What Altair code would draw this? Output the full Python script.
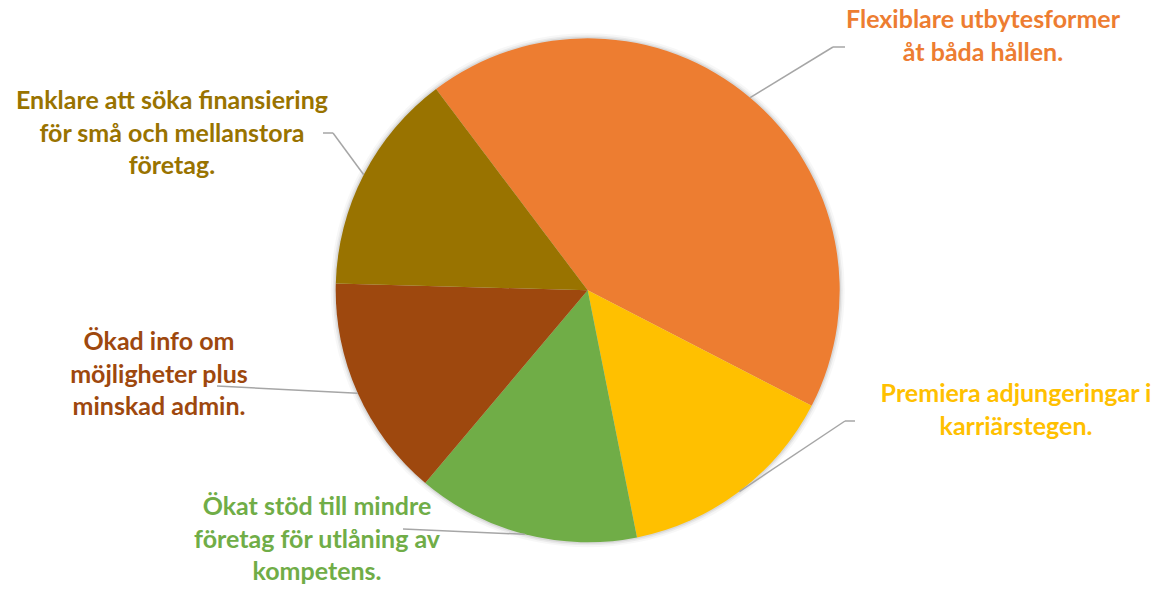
import math
import altair as alt
import pandas as pd

# ---- data ----
labels = [
    "Flexiblare utbytesformer\nåt båda hållen.",
    "Premiera adjungeringar i\nkarriärstegen.",
    "Ökat stöd till mindre\nföretag för utlåning av\nkompetens.",
    "Ökad info om\nmöjligheter plus\nminskad admin.",
    "Enklare att söka finansiering\nför små och mellanstora\nföretag.",
]
values = [3, 1, 1, 1, 1]
colors = ["#ED7D31", "#FFC000", "#70AD47", "#9E480E", "#997300"]

# ---- layout (chart pixel space; page offset 8px) ----
W, H = 1144, 582
CX, CY, R = 579.7, 282.3, 252
START = math.radians(323.0)          # first slice starts at 323 deg (clockwise from 12 o'clock)
label_x = [975, 1008, 309, 151, 164]
label_y = [20, 394, 507, 342, 101]
elbow_x = [825, 837, 395, 209, 325]
elbow_y = [39, 413, 521, 378, 125]
end_x = [837, 847, 395, 209, 315]
end_y = [39, 413, 521, 378, 125]

df = pd.DataFrame({
    "cat": labels,
    "value": values,
    "order": list(range(len(labels))),
    "lx": label_x, "ly": label_y,
    "ex1": elbow_x, "ey1": elbow_y,
    "ex2": end_x, "ey2": end_y,
})

color_scale = alt.Scale(domain=labels, range=colors)

base = alt.Chart(df)

shadow_r = [R + 5, R + 3, R + 1.5]
shadow_op = [0.03, 0.05, 0.07]
shadows = [
    alt.Chart(pd.DataFrame({"k": [0]})).mark_arc(
        theta=0, theta2=2 * math.pi, outerRadius=r, fill="#000000", opacity=op
    ).encode(x=alt.value(CX), y=alt.value(CY))
    for r, op in zip(shadow_r, shadow_op)
]

pie = base.mark_arc(outerRadius=R).encode(
    theta=alt.Theta("value:Q", stack=True,
                    scale=alt.Scale(range=[START, START + 2 * math.pi])),
    color=alt.Color("cat:N", scale=color_scale, legend=None),
    order=alt.Order("order:Q"),
    x=alt.value(CX),
    y=alt.value(CY),
)

leader_base = base.transform_joinaggregate(
    total="sum(value)"
).transform_window(
    cum="sum(value)", sort=[alt.SortField("order")], frame=[None, 0]
).transform_calculate(
    mid=f"{START} + 2*PI*(datum.cum - datum.value/2)/datum.total",
).transform_calculate(
    px=f"{CX} + {R}*sin(datum.mid)",
    py=f"{CY} - {R}*cos(datum.mid)",
)

lead1 = leader_base.mark_rule(color="#A6A6A6", strokeWidth=1.5).encode(
    x=alt.X("px:Q", scale=None, axis=None),
    y=alt.Y("py:Q", scale=None, axis=None),
    x2="ex1:Q",
    y2="ey1:Q",
)
lead2 = base.mark_rule(color="#A6A6A6", strokeWidth=1.5).encode(
    x=alt.X("ex1:Q", scale=None, axis=None),
    y=alt.Y("ey1:Q", scale=None, axis=None),
    x2="ex2:Q",
    y2="ey2:Q",
)

text = base.mark_text(
    align="center", baseline="alphabetic", font="Lato", fontWeight="bold",
    fontSize=25, lineBreak="\n", lineHeight=32.5,
).encode(
    x=alt.X("lx:Q", scale=None, axis=None),
    y=alt.Y("ly:Q", scale=None, axis=None),
    text="cat:N",
    color=alt.Color("cat:N", scale=color_scale, legend=None),
)

chart = alt.layer(*shadows, pie, lead1, lead2, text).properties(
    width=W, height=H, padding=0,
    autosize=alt.AutoSizeParams(type="none"),
    background="white",
).configure_view(stroke=None)

chart.save("out.html", embed_options={"renderer": "svg", "actions": False})
